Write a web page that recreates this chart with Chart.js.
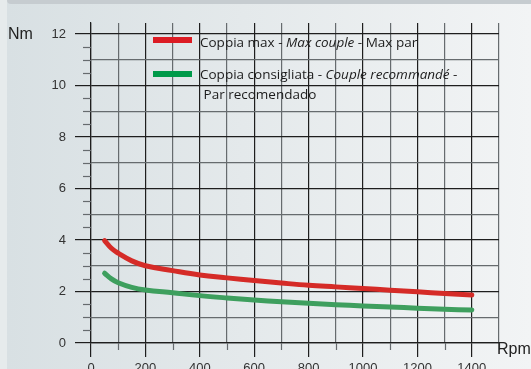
<!DOCTYPE html>
<html>
<head>
<meta charset="utf-8">
<script src="https://cdn.jsdelivr.net/npm/chart.js@4"></script>
<style>
  html, body { margin: 0; padding: 0; }
  body {
    width: 531px; height: 369px; overflow: hidden; position: relative;
    background: #e6ebec;
  }
  #panel {
    position: absolute; left: 7px; top: 0; width: 524px; height: 369px;
    background: linear-gradient(to right, #d8e0e3, #e4e9eb 45%, #f2f4f5);
  }
  #band {
    position: absolute; left: 7px; top: 0; width: 524px; height: 4px;
    background: #c6ccd0; border-bottom-left-radius: 6px;
  }
  #wrap { position: absolute; left: 0; top: 0; width: 531px; height: 369px; }
</style>
</head>
<body>
<div id="panel"></div>
<div id="band"></div>
<div id="wrap"><canvas id="torqueChart" width="531" height="369"></canvas></div>
<script>
// Data (rpm -> Nm)
const rpm = [50, 75, 100, 150, 200, 300, 400, 500, 600, 700, 800, 900, 1000, 1100, 1200, 1300, 1400];
const maxTorque = [3.98, 3.68, 3.49, 3.19, 3.0, 2.81, 2.64, 2.53, 2.43, 2.33, 2.24, 2.18, 2.12, 2.05, 1.99, 1.92, 1.86];
const recTorque = [2.71, 2.49, 2.34, 2.16, 2.06, 1.95, 1.84, 1.75, 1.67, 1.6, 1.54, 1.49, 1.44, 1.4, 1.35, 1.31, 1.28];
const yTicks = [0, 0.5, 1, 1.5, 2, 2.5, 3, 3.5, 4, 4.5, 5, 5.5, 6, 6.5, 7, 7.5, 8, 8.5, 9, 9.5, 10, 10.5, 11, 11.5, 12];

const redColor = "#d52b27";
const greenColor = "#3e9f5e";
const darkLine = "#1e1e1e";
const greyLine = "#666b6e";

// legend text pieces: [text, italic], one baseline per line
const legendRows = [
  { color: "#dc1c24", y: 40, bases: [47], lines: [[["Coppia max - ", false], ["Max couple", true], [" - Max par", false]]] },
  { color: "#009a4a", y: 74, bases: [79, 99], lines: [[["Coppia consigliata - ", false], ["Couple recommandé", true], [" -", false]], [[" Par recomendado", false]]] }
];

// short minor tick marks + legend + axis titles
const extras = {
  id: "extras",
  afterDraw(chart) {
    const ctx = chart.ctx;
    const xs = chart.scales.x, ys = chart.scales.y;
    const area = chart.chartArea;
    ctx.save();
    ctx.strokeStyle = greyLine;
    ctx.lineWidth = 1.2;
    yTicks.forEach(v => {
      if (v % 2 === 0) return;
      const py = Math.round(ys.getPixelForValue(v)) + 0.5;
      ctx.beginPath(); ctx.moveTo(area.left - 8, py); ctx.lineTo(area.left, py); ctx.stroke();
    });
    for (let v = 100; v <= 1500; v += 200) {
      const px = Math.round(xs.getPixelForValue(v)) + 0.5;
      ctx.beginPath(); ctx.moveTo(px, area.bottom); ctx.lineTo(px, area.bottom + 7); ctx.stroke();
    }

    // legend
    legendRows.forEach(row => {
      ctx.fillStyle = row.color;
      ctx.fillRect(153, row.y - 3, 39, 6);
      row.lines.forEach((segs, i) => {
        let x = 200;
        segs.forEach(([t, it]) => {
          ctx.font = (it ? "italic " : "") + "13.5px 'Open Sans'";
          ctx.fillStyle = "#1c1c1c";
          ctx.textBaseline = "alphabetic";
          ctx.fillText(t, x, row.bases[i]);
          x += ctx.measureText(t).width;
        });
      });
    });

    ctx.fillStyle = "#222";
    ctx.font = "16px 'Liberation Sans'";
    ctx.fillText("Nm", 8, 39);
    ctx.fillText("Rpm", 497, 354);
    ctx.restore();
  }
};

new Chart("torqueChart", {
  type: "line",
  data: {
    datasets: [
      {
        label: "Coppia max",
        data: rpm.map((r, i) => ({ x: r, y: maxTorque[i] })),
        borderColor: redColor,
        borderWidth: 5,
        borderCapStyle: "round",
        pointRadius: 0,
        tension: 0.4
      },
      {
        label: "Coppia consigliata",
        data: rpm.map((r, i) => ({ x: r, y: recTorque[i] })),
        borderColor: greenColor,
        borderWidth: 5,
        borderCapStyle: "round",
        pointRadius: 0,
        tension: 0.4
      }
    ]
  },
  options: {
    responsive: false,
    animation: false,
    layout: { padding: { top: 23, right: 32, left: 0, bottom: 0 } },
    plugins: { legend: { display: false }, tooltip: { enabled: false } },
    scales: {
      x: {
        type: "linear",
        min: 0,
        max: 1500,
        afterFit: s => { s.height = 26; },
        ticks: {
          stepSize: 100,
          autoSkip: false,
          maxRotation: 0,
          padding: 4,
          color: "#333",
          font: { family: "'Liberation Sans'", size: 13 },
          callback: v => (v % 200 === 0 ? v : "")
        },
        grid: {
          color: c => (c.tick && c.tick.value % 200 === 0 ? darkLine : greyLine),
          tickColor: c => (c.tick && c.tick.value % 200 === 0 ? darkLine : "transparent"),
          tickLength: 14,
          lineWidth: 1.2
        },
        border: { color: darkLine, width: 1.2 }
      },
      y: {
        min: 0,
        max: 12.43,
        afterFit: s => { s.width = 91; },
        afterBuildTicks: s => { s.ticks = yTicks.map(v => ({ value: v })); },
        ticks: {
          autoSkip: false,
          padding: 9,
          color: "#333",
          font: { family: "'Liberation Sans'", size: 13 },
          callback: v => (v % 2 === 0 ? v : "")
        },
        grid: {
          color: c => {
            const v = c.tick ? c.tick.value : 0;
            if (v % 1 !== 0) return "transparent";
            return v % 2 === 0 ? darkLine : greyLine;
          },
          tickColor: c => (c.tick && c.tick.value % 2 === 0 ? darkLine : "transparent"),
          tickLength: 16,
          lineWidth: 1.2
        },
        border: { color: darkLine, width: 1.2 }
      }
    }
  },
  plugins: [extras]
});
</script>
</body>
</html>
